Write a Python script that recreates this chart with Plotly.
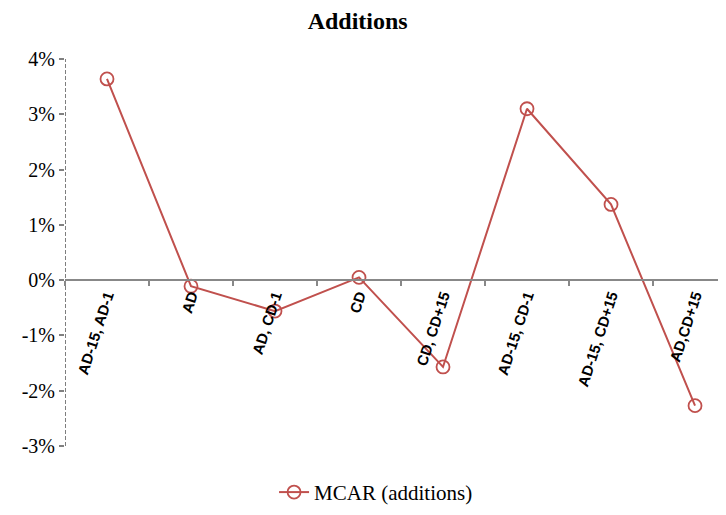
import plotly.graph_objects as go

categories = ["AD-15, AD-1", "AD", "AD, CD-1", "CD", "CD, CD+15",
              "AD-15, CD-1", "AD-15, CD+15", "AD,CD+15"]
mcar_additions = [3.64, -0.11, -0.56, 0.05, -1.57, 3.10, 1.37, -2.27]
y_ticks = [4, 3, 2, 1, 0, -1, -2, -3]
y_tick_labels = [f"{v}%" for v in y_ticks]

red = "#C0504D"

fig = go.Figure()
fig.add_trace(go.Scatter(
    x=categories, y=mcar_additions, mode="lines+markers",
    name="MCAR (additions)",
    line=dict(color=red, width=2),
    marker=dict(symbol="circle-open", size=13, color=red, line=dict(width=1.8, color=red)),
))

# dashed vertical axis line
fig.add_shape(type="line", xref="x", yref="y", x0=-0.5, x1=-0.5, y0=-3, y1=4,
              line=dict(color="#707070", width=1.8, dash="4px,2px"), layer="below")

fig.update_layout(
    width=718, height=507,
    margin=dict(l=57, r=2, t=51, b=67),
    paper_bgcolor="white", plot_bgcolor="white",
    title=dict(text="<b>Additions</b>", x=0.487, xref="container", xanchor="center",
               y=0.976, yref="container", yanchor="middle",
               font=dict(family="Liberation Serif", size=24, color="black")),
    showlegend=True,
    legend=dict(orientation="h", x=0.472, xanchor="center", y=-0.12, yanchor="middle",
                font=dict(family="Liberation Serif", size=21, color="black")),
    xaxis=dict(
        type="category", range=[-0.5, 7.345],
        anchor="free", position=3/7, automargin=False,
        showline=True, linecolor="#888888", linewidth=1.5,
        ticks="outside", ticklen=5, tickcolor="#888888", tickwidth=1.5,
        tickson="boundaries", tickangle=-72,
        showgrid=False, zeroline=False,
        tickfont=dict(family="Liberation Sans", size=15, color="black", weight="bold"),
    ),
    yaxis=dict(
        range=[-3, 4], domain=[0, 1], automargin=False,
        tickmode="array", tickvals=y_ticks, ticktext=y_tick_labels,
        showline=False, showgrid=False, zeroline=False,
        ticks="outside", ticklen=5, tickcolor="#808080", tickwidth=1.5,
        tickfont=dict(family="Liberation Serif", size=20, color="black"),
    ),
)

fig.write_html("out.html")
